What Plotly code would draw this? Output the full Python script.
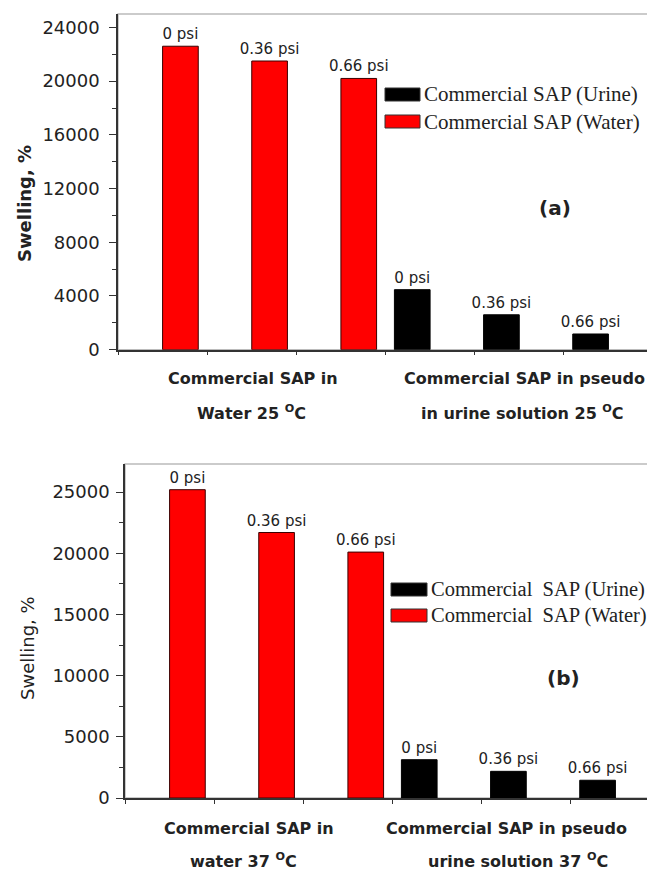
import plotly.graph_objects as go

# ---------------- data ----------------
psi_labels = ["0 psi", "0.36 psi", "0.66 psi"]
water_a = [22600, 21500, 20200]
urine_a = [4470, 2600, 1170]
water_b = [25200, 21700, 20100]
urine_b = [3130, 2180, 1450]
water_pos = [1, 2, 3]
urine_pos = [4, 5, 6]
legend_names = ["Commercial SAP (Urine)", "Commercial SAP (Water)"]
legend_names_b = ["Commercial\u00a0\u00a0SAP (Urine)", "Commercial\u00a0\u00a0SAP (Water)"]
cat_a = [["Commercial SAP in", "Water 25 <sup>O</sup>C"],
         ["Commercial SAP in pseudo", "in urine solution 25 <sup>O</sup>C"]]
cat_b = [["Commercial SAP in", "water 37 <sup>O</sup>C"],
         ["Commercial SAP in pseudo", "urine solution 37 <sup>O</sup>C"]]
y_title = "Swelling, %"

W, H = 655, 869
def px(x):
    return x / W
def py(y):
    return 1 - y / H

RED = "#ff0000"
BLACK = "#000000"
TXT = "#222222"
SANS = "DejaVu Sans"
SERIF = "Liberation Serif"

fig = go.Figure()

def add_bars(xa, ya, water, urine):
    fig.add_trace(go.Bar(x=water_pos, y=water, offset=0, width=0.4,
                         marker=dict(color=RED, line=dict(color="#3a0000", width=1)),
                         text=psi_labels, textposition="outside", textangle=0,
                         constraintext="none", cliponaxis=False,
                         textfont=dict(family=SANS, size=15, color=TXT),
                         name=legend_names[1], showlegend=False,
                         xaxis=xa, yaxis=ya))
    fig.add_trace(go.Bar(x=urine_pos, y=urine, offset=-0.4, width=0.4,
                         marker=dict(color=BLACK, line=dict(color=BLACK, width=1)),
                         text=psi_labels, textposition="outside", textangle=0,
                         constraintext="none", cliponaxis=False,
                         textfont=dict(family=SANS, size=15, color=TXT),
                         name=legend_names[0], showlegend=False,
                         xaxis=xa, yaxis=ya))

add_bars("x", "y", water_a, urine_a)
add_bars("x2", "y2", water_b, urine_b)

xcommon = dict(range=[0.5, 6.5], tickmode="linear", tick0=0.5, dtick=1,
               showticklabels=False, ticks="outside", ticklen=4, tickwidth=1,
               tickcolor="#333", showline=True, linecolor="#333", linewidth=1.5,
               showgrid=False, zeroline=False, automargin=False, fixedrange=True)
ycommon = dict(ticks="outside", ticklen=7, tickwidth=1, tickcolor="#333",
               showline=True, linecolor="#333", linewidth=1.5, showgrid=False,
               zeroline=False, automargin=False, tickformat="d",
               tickfont=dict(family=SANS, size=18, color=TXT))

fig.update_layout(
    width=W, height=H,
    margin=dict(l=0, r=0, t=0, b=0),
    paper_bgcolor="white", plot_bgcolor="white",
    showlegend=False, barmode="overlay",
    xaxis=dict(domain=[px(110), px(645)], anchor="y", **xcommon),
    yaxis=dict(domain=[py(341.7), py(6)], anchor="x", range=[0, 25000],
               tickmode="linear", tick0=0, dtick=4000, ticklabelstandoff=6,
               minor=dict(ticks="outside", ticklen=4, dtick=2000, tickcolor="#333"),
               **ycommon),
    xaxis2=dict(domain=[px(117), px(652)], anchor="y2", **xcommon),
    yaxis2=dict(domain=[py(790), py(456)], anchor="x2", range=[0, 27300],
                tickmode="linear", tick0=0, dtick=5000, ticklabelstandoff=3,
                minor=dict(ticks="outside", ticklen=4, dtick=2500, tickcolor="#333"),
                **ycommon),
)

shapes = []
annotations = []

# light gray frame around plot areas
for xr, yr in (("x domain", "y domain"), ("x2 domain", "y2 domain")):
    shapes.append(dict(type="rect", xref=xr, yref=yr, x0=0, x1=1, y0=0, y1=1,
                       line=dict(color="#bbbbbb", width=1.5), layer="below"))

def ann(x, y, text, size, family=SANS, angle=0, xanchor="center"):
    annotations.append(dict(xref="paper", yref="paper", x=px(x), y=py(y),
                            xanchor=xanchor, yanchor="middle", text=text,
                            textangle=angle, showarrow=False, borderpad=0,
                            font=dict(family=family, size=size, color=TXT)))

# manual legends
def legend(x0, x1, rows, names, size):
    for (ytop, ybot), color, name in zip(rows, [BLACK, RED], names):
        shapes.append(dict(type="rect", xref="paper", yref="paper",
                           x0=px(x0), x1=px(x1), y0=py(ybot), y1=py(ytop),
                           fillcolor=color, line=dict(color="#333", width=1)))
        ann(x1 + 3, (ytop + ybot) / 2, name, size, family=SERIF, xanchor="left")

legend(377, 412, [(80, 93), (107, 120)], legend_names, 21)
legend(383, 419, [(575, 588), (601, 614)], legend_names_b, 20.5)

# panel tags
ann(547, 200, "<b>(a)</b>", 20)
ann(555, 670, "<b>(b)</b>", 20)

# y titles
ann(16, 196, "<b>" + y_title + "</b>", 18, angle=-90)
ann(19, 640, y_title, 18, angle=-90)

# category labels
def cat_labels(labels, centers, ys):
    for (l1, l2), (c1, c2) in zip(labels, centers):
        ann(c1, ys[0], "<b>" + l1 + "</b>", 16)
        ann(c2, ys[1], "<b>" + l2 + "</b>", 16)

cat_labels(cat_a, [(245, 243), (516, 514)], (370, 404))
cat_labels(cat_b, [(241, 235), (498, 510)], (820, 852))

fig.update_layout(shapes=shapes, annotations=annotations)
fig.write_html("out.html")
